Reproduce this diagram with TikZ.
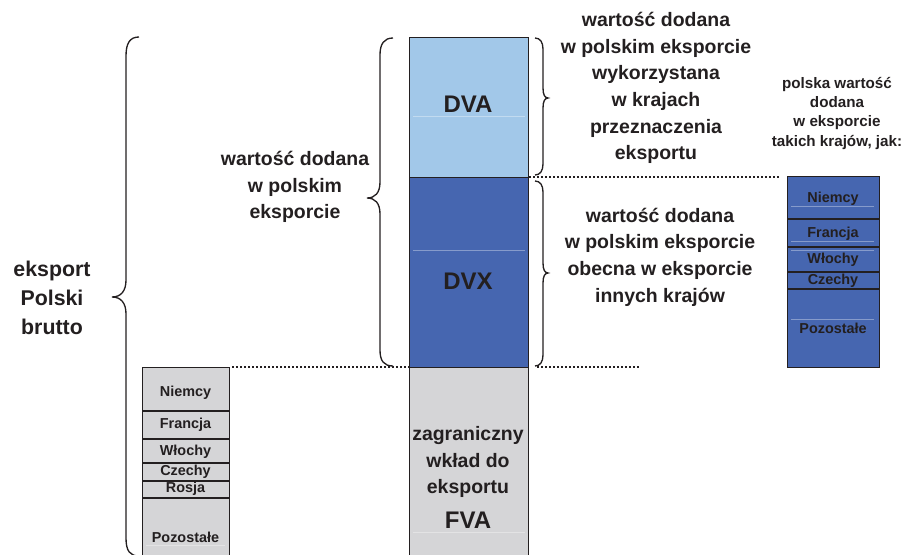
\documentclass[tikz,border=0pt]{standalone}
\usepackage{fontspec}
\setmainfont{Liberation Sans}
\definecolor{ink}{HTML}{231F20}
\definecolor{dvacol}{HTML}{A2C8E9}
\definecolor{dvxcol}{HTML}{4666B0}
\definecolor{fvacol}{HTML}{D5D5D7}
\begin{document}
\begin{tikzpicture}[x=0.75pt,y=-0.75pt,
  box/.style={draw=ink,line width=0.8pt,inner sep=0pt,anchor=north west},
  sep/.style={draw=ink,line width=0.8pt},
  ghost/.style={draw=white,opacity=0.35,line width=0.6pt},
  dots/.style={draw=ink,line width=1.2pt,dash pattern=on 1.3pt off 1.7pt},
  bracepath/.style={draw=ink,line width=1pt},
  bigtxt/.style={text=ink,font=\fontsize{14.6}{20}\selectfont\bfseries,align=center},
  huge/.style={text=ink,font=\fontsize{16}{22}\selectfont\bfseries,align=center},
  code/.style={text=ink,font=\fontsize{18}{22}\selectfont\bfseries},
  small/.style={text=ink,font=\fontsize{11.4}{14.5}\selectfont\bfseries,align=center},
  cell/.style={text=ink,font=\fontsize{10.8}{13}\selectfont\bfseries}]
\useasboundingbox (0,0) rectangle (911,554);
\clip (0,0) rectangle (911,554);

% main column
\node[box,fill=dvacol,minimum width=119*0.75pt,minimum height=140*0.75pt] (dva) at (409,37) {};
\node[box,fill=dvxcol,minimum width=119*0.75pt,minimum height=190*0.75pt] (dvx) at (409,177) {};
\node[box,fill=fvacol,minimum width=119*0.75pt,minimum height=200*0.75pt] (fva) at (409,367) {};
\draw[ghost] (413,116) -- (525,116);
\draw[ghost] (413,250) -- (525,250);
\draw[ghost] (413,532) -- (525,532);
\node[code] (tdva) at (468,104) {DVA};
\node[code] (tdvx) at (468,281) {DVX};
\node[bigtxt] (tfva) at (468,462) {zagraniczny\\wkład do\\eksportu};
\node[code] (tfvac) at (468,520) {FVA};

% left column
\node[box,fill=fvacol,minimum width=87*0.75pt,minimum height=200*0.75pt] (lcol) at (142,367) {};
\draw[sep] (142,411) -- (229,411);
\draw[sep] (142,439) -- (229,439);
\draw[sep] (142,463) -- (229,463);
\draw[sep] (142,481) -- (229,481);
\draw[sep] (142,498) -- (229,498);
\draw[ghost] (146,545) -- (225,545);
\node[cell] (l1) at (185.5,393) {Niemcy};
\node[cell] (l2) at (185.5,425) {Francja};
\node[cell] (l3) at (185.5,452) {Włochy};
\node[cell] (l4) at (185.5,472) {Czechy};
\node[cell] (l5) at (185.5,489) {Rosja};
\node[cell] (l6) at (185.5,537) {Pozostałe};

% right column
\node[box,fill=dvxcol,minimum width=92*0.75pt,minimum height=191*0.75pt] (rcol) at (787,176) {};
\draw[sep] (787,219) -- (879,219);
\draw[sep] (787,247) -- (879,247);
\draw[sep] (787,272) -- (879,272);
\draw[sep] (787,289) -- (879,289);
\draw[ghost] (791,206) -- (874,206);
\draw[ghost] (791,241) -- (874,241);
\draw[ghost] (791,250) -- (874,250);
\draw[ghost] (791,319) -- (874,319);
\node[cell] (r1) at (833,199) {Niemcy};
\node[cell] (r2) at (833,234) {Francja};
\node[cell] (r3) at (833,260) {Włochy};
\node[cell] (r4) at (833,281) {Czechy};
\node[cell] (r5) at (833,328) {Pozostałe};

% dotted lines
\coordinate (d1a) at (529,177);
\coordinate (d1b) at (779,177);
\draw[dots] (d1a) -- (d1b);
\coordinate (d2a) at (232,367);
\draw[dots] (d2a) -- (fva.north west);
\coordinate (d3a) at (537,367);
\coordinate (d3b) at (640,367);
\draw[dots] (d3a) -- (d3b);

% braces
\draw[bracepath] (139,37) .. controls (130,37) and (126,43) .. (126,56) -- (126,280) .. controls (126,291) and (121,297) .. (112,297) .. controls (121,297) and (126,303) .. (126,314) -- (126,538) .. controls (126,551) and (130,556) .. (139,556);
\draw[bracepath] (393,38) .. controls (384,38) and (380,44) .. (380,55) -- (380,182) .. controls (380,193) and (375,198) .. (367,198) .. controls (375,198) and (380,203) .. (380,214) -- (380,350) .. controls (380,361) and (384,366) .. (393,366);
\draw[bracepath] (535,38) .. controls (540,38) and (543,42) .. (543,49) -- (543,88) .. controls (543,95) and (545,98) .. (548,98) .. controls (545,98) and (543,101) .. (543,108) -- (543,164) .. controls (543,171) and (540,175) .. (535,175);
\draw[bracepath] (535,181) .. controls (540,181) and (543,185) .. (543,192) -- (543,263) .. controls (543,270) and (545,273) .. (548,273) .. controls (545,273) and (543,276) .. (543,283) -- (543,355) .. controls (543,362) and (540,366) .. (535,366);

% texts
\node[huge] (teks) at (52,298) {eksport\\Polski\\brutto};
\node[bigtxt] (tmid) at (295,187) {wartość dodana\\w polskim\\eksporcie};
\node[bigtxt] (tr1) at (656,88) {wartość dodana\\w polskim eksporcie\\wykorzystana\\w krajach\\przeznaczenia\\eksportu};
\node[bigtxt] (tr2) at (660,257) {wartość dodana\\w polskim eksporcie\\obecna w eksporcie\\innych krajów};
\node[small] (tr3) at (837,113) {polska wartość\\dodana\\w eksporcie\\takich krajów, jak:};
\end{tikzpicture}
\end{document}
